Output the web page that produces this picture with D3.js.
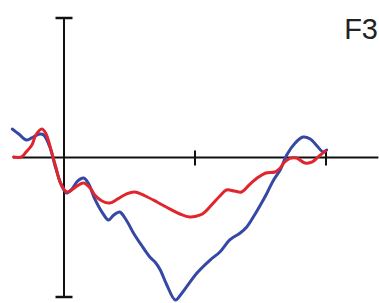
<!DOCTYPE html>
<html>
<head>
<meta charset="utf-8">
<script src="https://cdn.jsdelivr.net/npm/d3@7/dist/d3.min.js"></script>
<style>
  html, body { margin: 0; padding: 0; background: #fff; }
  svg { display: block; }
</style>
</head>
<body>
<svg id="chart" width="379" height="303"></svg>
<script>
// ---- data (time in ms, amplitude in µV) ----
const channelLabel = "F3";
const xTickValues = [200, 400];
const xExtent = [-78, 480];
const yExtent = [-10, 10];

const blueTime = [-79, -69, -57, -47, -37, -31, -21, -14, -4, 4, 12, 21, 30, 37, 47, 58, 68, 76, 85, 95, 106, 118, 131, 139, 147, 157, 170, 179, 187, 203, 223, 238, 253, 269, 279, 289, 299, 310, 320, 330, 340, 353, 365, 376, 385, 396, 401];
const blueValue = [2.04, 1.68, 1.25, 1.47, 1.68, 1.61, 0.68, -0.54, -1.97, -2.54, -2.26, -1.68, -1.47, -1.83, -2.97, -3.91, -4.48, -4.12, -3.91, -4.48, -5.41, -6.27, -7.13, -7.49, -8.06, -9.14, -10.22, -9.78, -9.28, -8.28, -7.35, -6.77, -5.91, -5.41, -4.98, -4.27, -3.48, -2.54, -1.61, -0.9, 0.18, 1.04, 1.47, 1.33, 0.9, 0.39, 0.54];

const redTime = [-77, -65, -58, -49, -43, -34, -28, -19, -12, -6, 4, 12, 20, 30, 40, 47, 58, 70, 82, 95, 108, 124, 142, 162, 177, 192, 208, 215, 228, 238, 248, 260, 271, 284, 297, 308, 322, 330, 337, 345, 355, 368, 379, 388, 399];
const redValue = [0.04, 0.04, 0.39, 0.9, 1.61, 2.04, 1.75, 0.39, -0.75, -1.76, -2.47, -2.33, -2.04, -1.83, -2.19, -2.69, -3.12, -3.26, -2.97, -2.62, -2.47, -2.76, -3.19, -3.7, -4.05, -4.27, -4.12, -3.91, -3.26, -2.76, -2.33, -2.4, -2.47, -1.9, -1.4, -1.11, -1.04, -0.75, -0.32, -0.06, -0.04, -0.39, -0.32, 0.04, 0.47];

const series = [
  { name: "blue", time: blueTime, value: blueValue, color: "#3448a4" },
  { name: "red", time: redTime, value: redValue, color: "#e0252c" }
];

// ---- layout ----
const svg = d3.select("#chart");
const x = d3.scaleLinear().domain([0, 400]).range([64, 326]);
const y = d3.scaleLinear().domain(yExtent).range([297, 18]);

// horizontal axis
const gx = svg.append("g").attr("transform", `translate(0,${y(0)})`);
gx.append("line")
  .attr("x1", x(xExtent[0])).attr("x2", x(xExtent[1]))
  .attr("y1", 0).attr("y2", 0)
  .attr("stroke", "#111").attr("stroke-width", 2);
gx.selectAll("line.tick").data(xTickValues).join("line")
  .attr("class", "tick")
  .attr("x1", d => x(d)).attr("x2", d => x(d))
  .attr("y1", -7).attr("y2", 8)
  .attr("stroke", "#111").attr("stroke-width", 2);

// vertical axis
const gy = svg.append("g");
gy.append("line")
  .attr("x1", x(0)).attr("x2", x(0))
  .attr("y1", y(yExtent[1])).attr("y2", y(yExtent[0]))
  .attr("stroke", "#111").attr("stroke-width", 2);
gy.selectAll("line.cap").data(yExtent).join("line")
  .attr("class", "cap")
  .attr("x1", x(0) - 8.5).attr("x2", x(0) + 8.5)
  .attr("y1", d => y(d)).attr("y2", d => y(d))
  .attr("stroke", "#111").attr("stroke-width", 2.5);

// series lines
const line = d3.line()
  .x(d => x(d[0]))
  .y(d => y(d[1]))
  .curve(d3.curveCatmullRom.alpha(0.5));

svg.selectAll("path.series").data(series).join("path")
  .attr("class", "series")
  .attr("fill", "none")
  .attr("stroke", d => d.color)
  .attr("stroke-width", 3)
  .attr("stroke-linejoin", "round")
  .attr("stroke-linecap", "round")
  .attr("d", d => line(d.time.map((t, i) => [t, d.value[i]])));

// channel label
svg.append("text")
  .attr("x", 378).attr("y", 39)
  .attr("text-anchor", "end")
  .attr("font-family", "'Liberation Sans', Arial, Helvetica, sans-serif")
  .attr("font-size", 29)
  .attr("fill", "#222")
  .text(channelLabel);
</script>
</body>
</html>
